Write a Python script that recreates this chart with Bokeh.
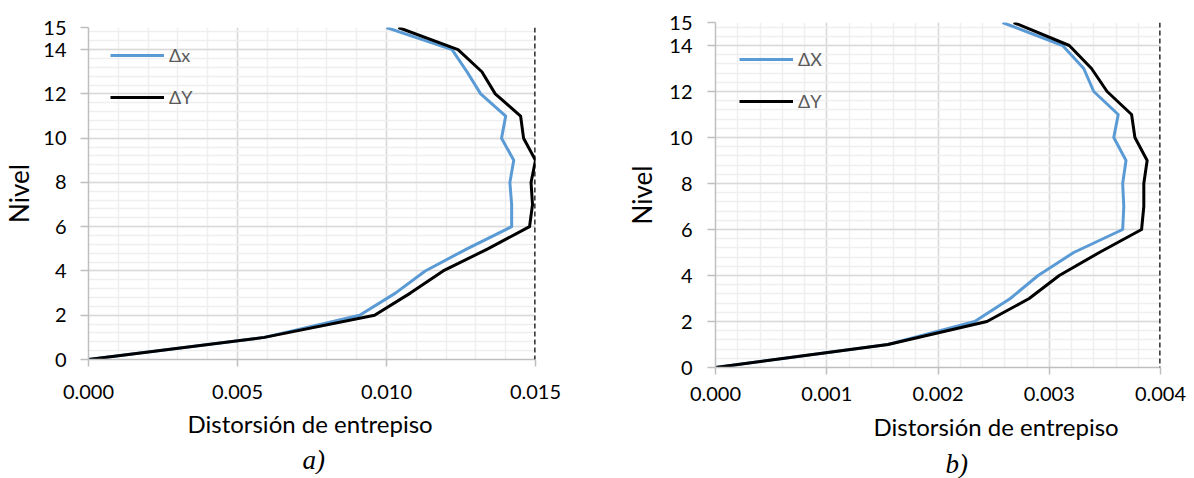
from bokeh.plotting import figure
from bokeh.layouts import row, column
from bokeh.models import (Range1d, FixedTicker, NumeralTickFormatter, Span,
                          Legend, LegendItem, Title)
from bokeh.embed import file_html
from bokeh.resources import INLINE
import numpy as np

# ---------------- data ----------------
LEVELS = list(range(16))

# panel a)
DRIFT_A_X = [0.0, 0.0059, 0.0091, 0.0103, 0.0113, 0.0127, 0.0142, 0.0142,
             0.01414, 0.01427, 0.01386, 0.0140, 0.01316, 0.0127, 0.0122, 0.0100]
DRIFT_A_Y = [0.0, 0.0059, 0.0096, 0.0108, 0.0119, 0.0134, 0.0148, 0.0149,
             0.01485, 0.0150, 0.0146, 0.0145, 0.01365, 0.0132, 0.0124, 0.0104]
LIMIT_A = 0.015
X_TICKS_A = [0.000, 0.005, 0.010, 0.015]

# panel b)
DRIFT_B_X = [0.0, 0.00155, 0.00233, 0.00265, 0.0029, 0.00322, 0.00366, 0.00367,
             0.00366, 0.00369, 0.00358, 0.00362, 0.0034, 0.00331, 0.00312, 0.00258]
DRIFT_B_Y = [0.0, 0.00155, 0.00244, 0.00282, 0.00309, 0.00345, 0.00383, 0.00385,
             0.00385, 0.00388, 0.00377, 0.00374, 0.00352, 0.00338, 0.00318, 0.00268]
LIMIT_B = 0.004
X_TICKS_B = [0.000, 0.001, 0.002, 0.003, 0.004]

Y_TICKS = [0, 2, 4, 6, 8, 10, 12, 14, 15]
SERIES_A = ["Δx", "ΔY"]
SERIES_B = ["ΔX", "ΔY"]
X_LABEL = "Distorsión de entrepiso"
Y_LABEL = "Nivel"
CAPTIONS = ["a)", "b)"]

BLUE = "#5B9BD5"
FONT = "Lato"


def make_panel(dx, dy, names, limit, xticks, xminor_step, caption,
               fw, fh, bl, bt, br, bb, legend_loc, xlab_off, cap_off,
               xlab_std, cap_std, ylab_std, tick_std_y, tick_std_x):
    p = figure(frame_width=fw, frame_height=fh,
               x_range=Range1d(0, limit), y_range=Range1d(0, 15),
               output_backend="svg", toolbar_location=None,
               min_border_left=bl, min_border_top=bt, min_border_right=br,
               min_border_bottom=bb)
    p.outline_line_color = None
    p.background_fill_color = "white"

    xminor = list(np.arange(0, limit + xminor_step / 2, xminor_step))
    yminor = list(np.arange(0, 15.01, 0.4))
    xt = FixedTicker(ticks=xticks, minor_ticks=xminor)
    yt = FixedTicker(ticks=Y_TICKS, minor_ticks=yminor)
    p.xaxis.ticker = xt
    p.xgrid.ticker = xt
    p.yaxis.ticker = yt
    p.ygrid.ticker = yt
    p.xaxis.formatter = NumeralTickFormatter(format="0.000")

    for g in (p.xgrid, p.ygrid):
        g.grid_line_color = "#d9d9d9"
        g.grid_line_width = 1.5
        g.minor_grid_line_color = "#efefef"
        g.minor_grid_line_width = 1.5

    for ax in (p.xaxis, p.yaxis):
        ax.axis_line_color = "#bfbfbf"
        ax.axis_line_width = 1.5
        ax.major_tick_line_color = "#bfbfbf"
        ax.major_tick_line_width = 1.5
        ax.major_tick_in = 0
        ax.minor_tick_line_color = None
        ax.major_label_text_font = FONT
        ax.major_label_text_font_size = "20px"
        ax.major_label_text_color = "black"
    p.yaxis.major_tick_out = 8
    p.xaxis.major_tick_out = 7
    p.yaxis.major_label_standoff = tick_std_y
    p.xaxis.major_label_standoff = tick_std_x

    p.yaxis.axis_label = Y_LABEL
    p.yaxis.axis_label_text_font = FONT
    p.yaxis.axis_label_text_font_size = "26px"
    p.yaxis.axis_label_text_font_style = "normal"
    p.yaxis.axis_label_text_color = "black"
    p.yaxis.axis_label_standoff = ylab_std

    r1 = p.line(dx, LEVELS, line_color=BLUE, line_width=3, line_join="round")
    r2 = p.line(dy, LEVELS, line_color="black", line_width=3, line_join="round")

    p.add_layout(Span(location=limit, dimension="height", line_color="black",
                      line_dash="5 3", line_width=2.5))

    legend = Legend(items=[LegendItem(label=names[0], renderers=[r1]),
                           LegendItem(label=names[1], renderers=[r2])],
                    location=legend_loc, glyph_width=54, glyph_height=20,
                    label_height=20, spacing=20, padding=0, margin=0,
                    label_standoff=5, label_text_font=FONT,
                    label_text_font_size="18px", label_text_color="#595959",
                    background_fill_alpha=0, border_line_alpha=0)
    p.add_layout(legend)

    t1 = Title(text=X_LABEL, align="left", offset=xlab_off, standoff=xlab_std,
               text_font=FONT, text_font_size="24px", text_font_style="normal",
               text_color="black")
    t2 = Title(text=caption, align="left", offset=cap_off, standoff=cap_std,
               text_font="Liberation Serif", text_font_size="27px",
               text_font_style="italic", text_color="black")
    p.add_layout(t1, "below")
    p.add_layout(t2, "below")
    return p


pa = make_panel(DRIFT_A_X, DRIFT_A_Y, SERIES_A, LIMIT_A, X_TICKS_A, 0.001,
                CAPTIONS[0], fw=447, fh=332, bl=88, bt=27, br=73, bb=100,
                legend_loc=(22, 251), xlab_off=99, cap_off=214,
                xlab_std=10, cap_std=0, ylab_std=5, tick_std_y=14, tick_std_x=18)
pb = make_panel(DRIFT_B_X, DRIFT_B_Y, SERIES_B, LIMIT_B, X_TICKS_B, 0.0002,
                CAPTIONS[1], fw=445, fh=345, bl=107, bt=22, br=30, bb=100,
                legend_loc=(24, 255), xlab_off=158, cap_off=230,
                xlab_std=12, cap_std=0, ylab_std=8, tick_std_y=15, tick_std_x=12)

layout = row(column(pa), column(pb))
open("out.html", "w").write(file_html(layout, INLINE))
